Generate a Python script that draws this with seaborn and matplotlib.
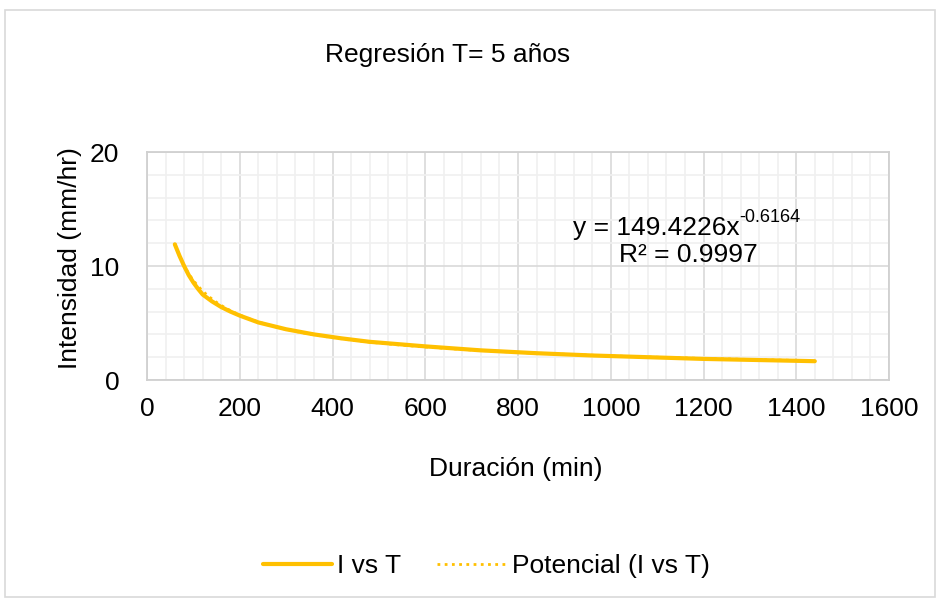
import matplotlib
matplotlib.use('Agg')
import matplotlib.pyplot as plt
from matplotlib.ticker import MultipleLocator
from matplotlib.patches import Rectangle
import numpy as np
import pandas as pd
import seaborn as sns

# Data (duration in min, intensity in mm/hr)
duracion = [60, 70, 80, 90, 100, 110, 120, 140, 160, 180, 200, 240, 300, 360,
            420, 480, 540, 600, 720, 840, 960, 1080, 1200, 1320, 1440]
intensidad = [11.9, 10.9, 10.0, 9.2, 8.55, 8.0, 7.5, 6.9, 6.4, 6.0, 5.65, 5.05,
              4.45, 4.0, 3.65, 3.35, 3.15, 2.95, 2.6, 2.35, 2.15, 2.0, 1.85,
              1.75, 1.65]

# Power trendline coefficients shown on the chart
coef_a = 149.4226
coef_b = -0.6164
r2 = 0.9997

titulo = 'Regresión T= 5 años'
xlab = 'Duración (min)'
ylab = 'Intensidad (mm/hr)'

sns.set_style('white')
plt.rcParams['font.family'] = ['Liberation Sans', 'DejaVu Sans']
plt.rcParams['text.color'] = 'black'

df = pd.DataFrame({'T': duracion, 'I': intensidad})
x_fit = np.linspace(min(duracion), max(duracion), 300)
df_fit = pd.DataFrame({'T': x_fit, 'I': coef_a * x_fit ** coef_b})

amarillo = '#FFC000'
fs = 19
fig = plt.figure(figsize=(9.4, 5.99), dpi=100)
ax = fig.add_axes([147/940, 1-380/599, 742/940, 228/599])

sns.lineplot(data=df, x='T', y='I', ax=ax, color=amarillo, lw=3.0,
             label='I vs T', solid_capstyle='round')
sns.lineplot(data=df_fit, x='T', y='I', ax=ax, color=amarillo, lw=2.0,
             linestyle=(0, (1, 1.6)), label='Potencial (I vs T)')

ax.set_xlim(0, 1600)
ax.set_ylim(0, 20)
ax.xaxis.set_major_locator(MultipleLocator(200))
ax.xaxis.set_minor_locator(MultipleLocator(40))
ax.yaxis.set_major_locator(MultipleLocator(10))
ax.yaxis.set_minor_locator(MultipleLocator(2))
ax.grid(which='major', color='#D9D9D9', lw=1.2, zorder=0)
ax.grid(which='minor', color='#F0F0F0', lw=1.2, zorder=0)
ax.set_axisbelow(True)
for s in ax.spines.values():
    s.set_color('#D0D0D0')
    s.set_linewidth(1.3)
ax.tick_params(which='both', length=0, labelsize=fs, colors='#000000')
ax.tick_params(axis='y', pad=20)
ax.tick_params(axis='x', pad=12)
ax.set_xlabel('')
ax.set_ylabel('')

fig.text(448/940, 1-55/599, titulo, ha='center', va='center', fontsize=fs)
fig.text(516/940, 1-469/599, xlab, ha='center', va='center', fontsize=fs)
fig.text(70/940, 1-258/599, ylab, ha='center', va='center', rotation=90,
         fontsize=fs)

eq = ax.text(918, 12.75, 'y = %.4fx' % coef_a, fontsize=fs,
             ha='left', va='baseline')
ax.annotate('%.4f' % coef_b, xy=(1.0, 0.92), xycoords=eq, fontsize=13,
            ha='left', va='center')
ax.text(1167, 10.35, 'R² = %.4f' % r2, fontsize=fs, ha='center',
        va='baseline')

leg = ax.legend(loc='center', bbox_to_anchor=(486/940, 1-566/599),
                bbox_transform=fig.transFigure, ncol=2, frameon=False,
                fontsize=fs, handlelength=2.65, handletextpad=0.18,
                columnspacing=1.35)

fig.add_artist(Rectangle((5/940, 2/599), 930/940, 587/599,
                         transform=fig.transFigure, fill=False,
                         edgecolor='#D9D9D9', lw=1.2))

fig.savefig('out.png', dpi=100)
